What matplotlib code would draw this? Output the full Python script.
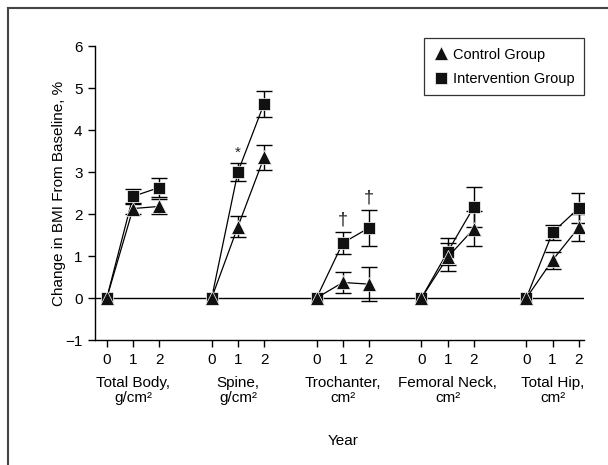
import matplotlib
matplotlib.use("Agg")
import matplotlib.pyplot as plt
from matplotlib.lines import Line2D
import numpy as np

plt.rcParams['font.family'] = ['Liberation Sans Narrow', 'Liberation Sans', 'DejaVu Sans']
plt.rcParams['font.size'] = 11

# ---- data ----
sites = ["Total Body,\ng/cm²", "Spine,\ng/cm²", "Trochanter,\ncm²",
         "Femoral Neck,\ncm²", "Total Hip,\ncm²"]
years = [0, 1, 2]

control_mean = [[0, 2.13, 2.18], [0, 1.70, 3.35], [0, 0.37, 0.33],
                [0, 0.97, 1.65], [0, 0.90, 1.68]]
control_se = [[0, 0.13, 0.18], [0, 0.25, 0.30], [0, 0.25, 0.40],
              [0, 0.33, 0.42], [0, 0.20, 0.33]]
interv_mean = [[0, 2.42, 2.63], [0, 3.00, 4.63], [0, 1.31, 1.67],
               [0, 1.10, 2.17], [0, 1.56, 2.14]]
interv_se = [[0, 0.17, 0.23], [0, 0.21, 0.31], [0, 0.26, 0.43],
             [0, 0.32, 0.47], [0, 0.19, 0.35]]

# significance marks: (site index, year, symbol)
sig_marks = [(1, 1, "*"), (2, 1, "†"), (2, 2, "†")]

group_gap = 4  # x offset between sites

fig = plt.figure(figsize=(6.08, 4.65), dpi=100)
ax = fig.add_axes([95 / 608, 1 - 340 / 465, (584 - 95) / 608, (340 - 46) / 465])

ax.axhline(0, color="black", lw=1, zorder=1)

for i in range(len(sites)):
    xs = np.array(years) + i * group_gap
    # intervention first, control drawn on top
    for mean, se, mk, ms, z in [(interv_mean[i], interv_se[i], "s", 8.5, 3),
                                (control_mean[i], control_se[i], "^", 9.5, 4)]:
        err = [s if s > 0 else np.nan for s in se]
        ax.errorbar(xs, mean, yerr=err, fmt="none", ecolor="black",
                    elinewidth=1, capsize=5.5, capthick=1, zorder=2)
        ax.plot(xs, mean, color="black", lw=0.9, marker=mk, ms=ms,
                mfc="#111111", mec="white", mew=0.5, zorder=z)

for i, yr, sym in sig_marks:
    x = yr + i * group_gap
    top = interv_mean[i][yr] + interv_se[i][yr]
    ax.text(x, top + 0.08, sym, ha="center", va="bottom",
            fontsize=13 if sym == "†" else 11, color="#222222")

ax.set_ylim(-1, 6)
ax.set_xlim(-0.45, 18.2)
ax.set_yticks(range(-1, 7))
ax.set_yticklabels(["−1", "0", "1", "2", "3", "4", "5", "6"])

xt = [yr + i * group_gap for i in range(len(sites)) for yr in years]
ax.set_xticks(xt)
ax.set_xticklabels([str(yr) for i in range(len(sites)) for yr in years])
ax.tick_params(direction="out", length=5, width=1, labelsize=11, pad=4)

for s in ["top", "right"]:
    ax.spines[s].set_visible(False)
for s in ["left", "bottom"]:
    ax.spines[s].set_linewidth(1)

for i, name in enumerate(sites):
    ax.annotate(name, xy=(1 + i * group_gap, 0), xycoords=("data", "axes fraction"),
                xytext=(0, -26), textcoords="offset points",
                ha="center", va="top", fontsize=11, linespacing=1.1)

ax.set_ylabel("Change in BMI From Baseline, %", fontsize=11)
ax.yaxis.set_label_coords(-(95 - 66) / 489, 0.5)
fig.text(343 / 608, 1 - 441 / 465, "Year", ha="center", va="center", fontsize=11)

handles = [Line2D([], [], ls="none", marker="^", ms=9.5, mfc="#111111", mec="white", mew=0.5),
           Line2D([], [], ls="none", marker="s", ms=8.5, mfc="#111111", mec="white", mew=0.5)]
leg = ax.legend(handles, ["Control Group", "Intervention Group"],
                loc="upper right", bbox_to_anchor=(1.0, 1.027), borderaxespad=0,
                fancybox=False, edgecolor="#333333", framealpha=1,
                handlelength=1, handletextpad=0.35, borderpad=0.65,
                labelspacing=0.7, fontsize=10.5)
leg.get_frame().set_linewidth(0.9)

# outer frame of the figure panel
fig.add_artist(Line2D([8 / 608, 8 / 608], [0, 1 - 8 / 465], color="#444444", lw=1.5))
fig.add_artist(Line2D([8 / 608, 1], [1 - 8 / 465, 1 - 8 / 465], color="#444444", lw=1.5))

fig.savefig("out.png", dpi=100)
